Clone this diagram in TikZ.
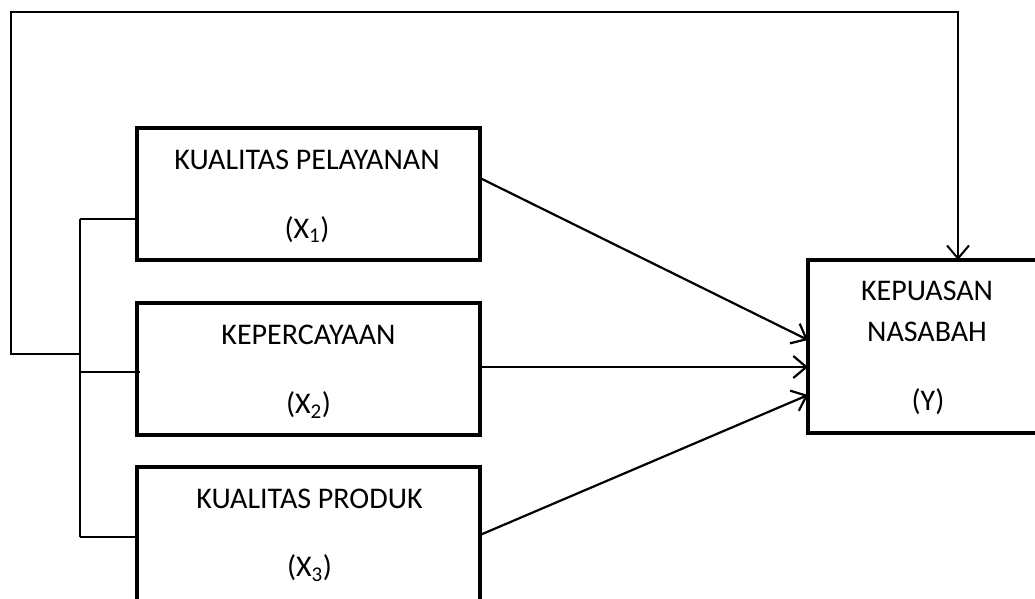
\documentclass[tikz,border=0pt]{standalone}
\usepackage{fontspec}
\setmainfont{Carlito}
\usetikzlibrary{arrows.meta}
\begin{document}
\begin{tikzpicture}[x=1pt,y=-1pt,
  varbox/.style={draw, line width=4.5pt, rectangle, inner sep=0pt, outer sep=0pt},
  lbl/.style={anchor=base, inner sep=0pt, font=\fontsize{30}{36}\selectfont},
  thin/.style={line width=1.8pt},
  arr/.style={line width=2.2pt, -{Straight Barb[length=13pt,width=22pt,line width=2.2pt]}}]
\clip (0,0) rectangle (1035,599);
\fill[white] (0,0) rectangle (1035,599);
% boxes
\node[varbox, minimum width=343pt, minimum height=132pt] (b1) at (308.5,194) {};
\node[varbox, minimum width=343pt, minimum height=132pt] (b2) at (308.5,369) {};
\node[varbox, minimum width=343pt, minimum height=140pt] (b3) at (308.5,537) {};
\node[varbox, minimum width=238pt, minimum height=173pt] (y) at (927,346.5) {};
% labels
\node[lbl] (t1) at (307,169) {KUALITAS PELAYANAN};
\node[lbl] (s1) at (307,238) {(X\textsubscript{1})};
\node[lbl] (t2) at (308.5,344) {KEPERCAYAAN};
\node[lbl] (s2) at (308.5,413) {(X\textsubscript{2})};
\node[lbl] (t3) at (309.5,508) {KUALITAS PRODUK};
\node[lbl] (s3) at (309.5,576) {(X\textsubscript{3})};
\node[lbl] (ty1) at (927,300) {KEPUASAN};
\node[lbl] (ty2) at (927,341) {NASABAH};
\node[lbl] (sy) at (928,410) {(Y)};
% bracket
\coordinate (bt) at (80,219);
\coordinate (bm) at (80,372);
\coordinate (bb) at (80,537);
\coordinate (j) at (80,354);
\coordinate (c1) at (11,12);
\draw[thin] (bt) -- (bb);
\draw[thin] (bt) -- (bt -| b1.west);
\draw[thin] (bm) -- ([xshift=3pt]bm -| b2.west);
\draw[thin] (bb) -- (bb -| b3.west);
% feedback line
\draw[thin, -{Straight Barb[length=13pt,width=22pt,line width=2pt]}] (j) -| (c1) -| ([xshift=31pt]y.north);
% arrows
\draw[arr] ([yshift=16pt]b1.east) -- ([yshift=6.5pt]y.west);
\draw[arr] ([yshift=2pt]b2.east) -- ([yshift=-20.5pt]y.west);
\draw[arr] ([yshift=2pt]b3.east) -- ([yshift=-48.5pt]y.west);
\end{tikzpicture}
\end{document}
